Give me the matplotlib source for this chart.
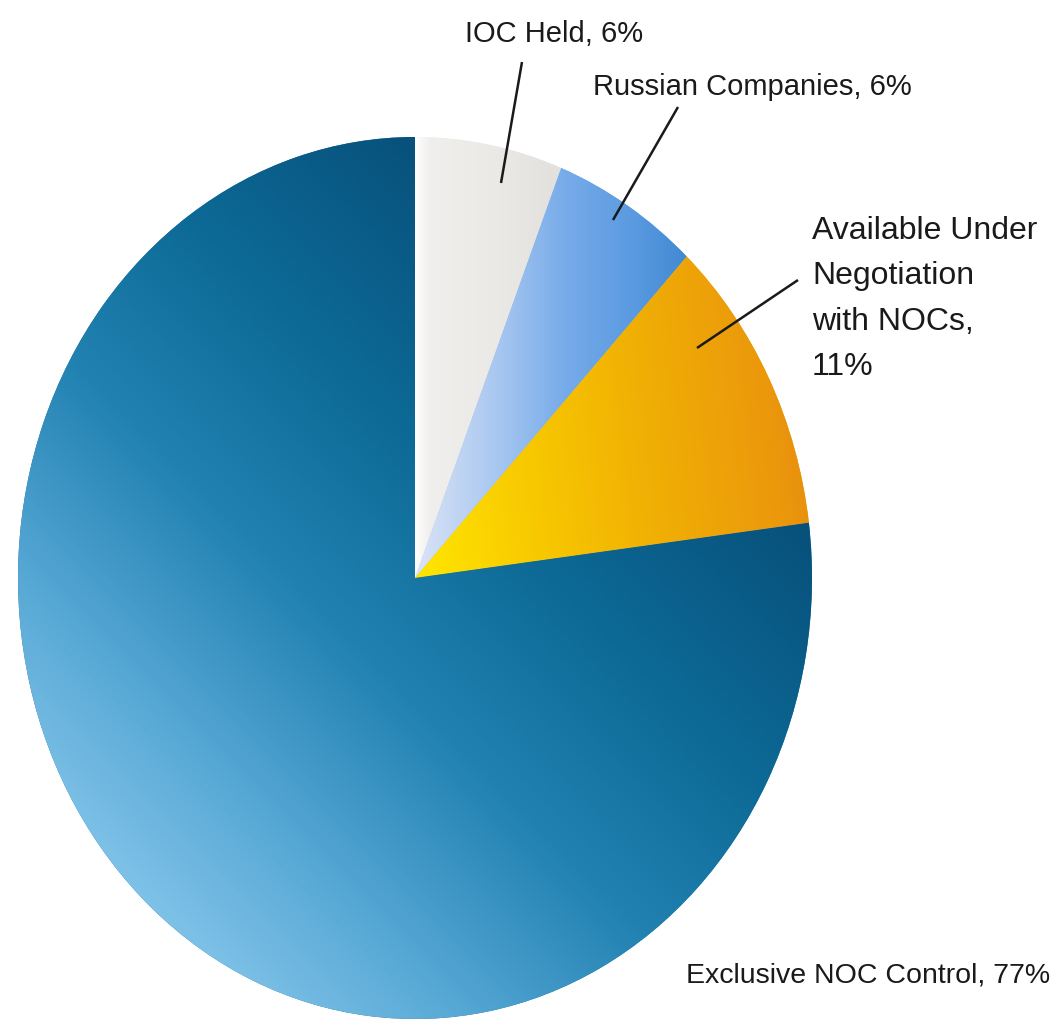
import numpy as np
import matplotlib
matplotlib.use("Agg")
import matplotlib.pyplot as plt
from matplotlib.colors import LinearSegmentedColormap

# Shares of reserves by access type (percent)
categories = ["IOC Held", "Russian Companies",
              "Available Under\nNegotiation\nwith NOCs", "Exclusive NOC Control"]
shares = [6, 6, 11, 77]
label_joiners = [", ", ", ", ",\n", ", "]

W, H = 1064, 1025
fig = plt.figure(figsize=(W / 100, H / 100), dpi=100)
fig.patch.set_facecolor("white")

# Pie bounding box in pixels (the pie is slightly taller than wide)
left_px, right_px, top_px, bottom_px = 18, 812, 137, 1019
ax = fig.add_axes([left_px / W, 1 - bottom_px / H,
                   (right_px - left_px) / W, (bottom_px - top_px) / H])
wedges, _ = ax.pie(shares, startangle=90, counterclock=False, radius=1,
                   center=(0, 0), wedgeprops=dict(linewidth=0))
ax.set_aspect("auto")
ax.set_xlim(-1, 1)
ax.set_ylim(-1, 1)
ax.axis("off")

# Pixel grid over the pie box for the gradient fills
n = 700
u = np.linspace(-1, 1, n)
v = np.linspace(1, -1, n)
U, V = np.meshgrid(u, v)
PX = left_px + (U + 1) / 2 * (right_px - left_px)
PY = top_px + (1 - V) / 2 * (bottom_px - top_px)
cx = (left_px + right_px) / 2


def grad(stops):
    return LinearSegmentedColormap.from_list("g", stops)


fills = [
    (np.clip((PX - cx) / 140, 0, 1),
     grad([(0, "#ffffff"), (0.1, "#f0efed"), (0.6, "#eae9e6"), (1, "#e2e1de")])),
    (np.clip((PX - cx) / 275, 0, 1),
     grad([(0, "#dbe4f6"), (0.3, "#a8c7f0"), (0.55, "#76abe9"), (0.8, "#5a9ae0"),
           (1, "#3f89d2")])),
    (np.clip((PX - cx) / (right_px - cx) * 0.85 + (560 - PY) / 600 * 0.15, 0, 1),
     grad([(0, "#ffe600"), (0.25, "#f8ca00"), (0.55, "#f0ad05"), (0.8, "#eb980c"),
           (1, "#e27e12")])),
    (np.clip(((right_px - PX) + (PY - top_px)) /
             ((right_px - left_px) + (bottom_px - top_px)), 0, 1),
     grad([(0, "#023258"), (0.2, "#064c76"), (0.42, "#0d6a96"), (0.58, "#2282b2"),
           (0.73, "#55a7d4"), (0.87, "#84c5ea"), (1, "#a4d8f4")])),
]

for wedge, (t, cmap) in zip(wedges, fills):
    wedge.set_facecolor(cmap(0.5))
    img = ax.imshow(cmap(t), extent=(-1, 1, -1, 1), origin="upper",
                    interpolation="bilinear", aspect="auto", zorder=2)
    img.set_clip_path(wedge)

# Overlay in pixel coordinates for labels and leader lines
ov = fig.add_axes([0, 0, 1, 1])
ov.set_xlim(0, W)
ov.set_ylim(H, 0)
ov.axis("off")
ov.patch.set_visible(False)

font = ["Liberation Sans", "DejaVu Sans"]
label_pos = [(465, 42), (593, 95), (812, 375), (686, 983)]
label_size = [21, 21, 23, 20.5]
leaders = [((522, 62), (501, 183)), ((678, 107), (613, 220)),
           ((798, 280), (697, 348)), None]

for name, share, joiner, (x, y), size, lead in zip(
        categories, shares, label_joiners, label_pos, label_size, leaders):
    ov.text(x, y, f"{name}{joiner}{share}%", ha="left", va="baseline",
            fontsize=size, family=font, color="#1a1a1a", linespacing=1.67)
    if lead is not None:
        (x0, y0), (x1, y1) = lead
        ov.plot([x0, x1], [y0, y1], color="#1a1a1a", lw=1.8,
                solid_capstyle="butt")

fig.savefig("out.png", dpi=100, facecolor="white")
